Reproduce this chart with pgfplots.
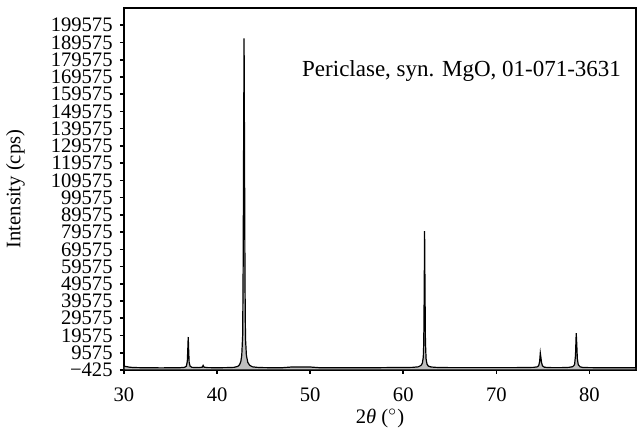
\documentclass[border=0pt]{standalone}
\usepackage{fontspec}
\setmainfont{Liberation Serif}
\usepackage{pgfplots}
\pgfplotsset{compat=1.18}
\begin{document}
\fontsize{10.3pt}{12pt}\selectfont
\begin{tikzpicture}
\begin{axis}[
  scale only axis,
  width=256pt, height=181pt,
  xmin=30, xmax=85, ymin=-425, ymax=209575,
  xtick={30,40,50,60,70,80},
  ytick={-425,9575,19575,29575,39575,49575,59575,69575,79575,89575,99575,109575,119575,129575,139575,149575,159575,169575,179575,189575,199575},
  yticklabels={−425,9575,19575,29575,39575,49575,59575,69575,79575,89575,99575,109575,119575,129575,139575,149575,159575,169575,179575,189575,199575},
  xticklabel style={font=\fontsize{10.3pt}{12pt}\selectfont, yshift=-3.5pt},
  yticklabel style={font=\fontsize{10.3pt}{10pt}\selectfont, inner sep=0pt, xshift=-3.5pt},
  /pgf/number format/assume math mode=true,
  tick align=outside,
  major tick length=2pt,
  xtick pos=bottom, ytick pos=left,
  tick style={black, line width=0.8pt},
  axis line style={line width=0.8pt},
  xlabel={2{\itshape θ} ($^\circ$)},
  ylabel={Intensity (cps)},
  xlabel style={at={(axis description cs:0.5,-0.133)}, anchor=center},
  ylabel style={at={(axis description cs:-0.212,0.5)}, anchor=center, rotate=0},
  label style={font=\fontsize{10.3pt}{12pt}\selectfont},
  clip=true,
]
\coordinate (sw) at (rel axis cs:0,0);
\coordinate (ne) at (rel axis cs:1,1);
\addplot[draw=black, line width=0.6pt, fill=gray!50] coordinates {
(30,-425)
(30,1800) (30.3,1500) (30.6,1200) (31,1000) (32,900) (33,850) (34,800) (35,850) (36,900) (36.5,1100)
(36.7,1800) (36.8,4500) (36.85,11000) (36.9,18700) (36.95,10500) (37.0,4000) (37.1,1800) (37.3,1100)
(38,950) (38.4,1200) (38.5,2200) (38.6,1200) (39,950) (40,900) (41,950) (41.8,1100)
(42.2,1600) (42.4,2500) (42.55,4500) (42.65,8000) (42.75,20000) (42.8,60000) (42.85,130000) (42.9,192000) (42.95,120000) (43.0,50000) (43.05,18000) (43.15,8000) (43.3,4000) (43.5,2300) (43.8,1400) (44.3,1100)
(45,950) (46,900) (47,900) (48,1300) (49,1300) (50,1300) (51,900) (52,900) (53,850) (54,900) (55,900) (56,900) (57,900) (58,950) (59,1000) (60,1000) (61,1100) (61.6,1400)
(61.9,2200) (62.05,3500) (62.15,7000) (62.2,15000) (62.25,45000) (62.29,80200) (62.33,50000) (62.38,16000) (62.45,6000) (62.55,3000) (62.7,1800) (63,1300) (63.5,1100)
(64,1000) (65,950) (66,950) (67,950) (68,950) (69,950) (70,950) (71,950) (72,950) (73,1000) (74,1100) (74.4,1400)
(74.55,2200) (74.65,4500) (74.72,9400) (74.78,7000) (74.85,4000) (74.95,2000) (75.15,1200)
(75.5,1000) (76,950) (77,950) (77.8,1100) (78.2,1500)
(78.4,2600) (78.5,8000) (78.58,21000) (78.64,14000) (78.7,6000) (78.8,2600) (79.0,1400) (79.3,1000)
(80,950) (81,900) (82,900) (83,900) (84,900) (85,900)
(85,-425)
} -- cycle;
\node[anchor=west, inner sep=0pt, font=\fontsize{11.5pt}{13pt}\selectfont] at (axis cs:49.1,172900) {Periclase, syn. MgO, 01-071-3631};
\end{axis}
\pgfresetboundingbox
\path ([shift={(-62pt,-33pt)}]sw) rectangle ([shift={(0.5pt,4pt)}]ne);
\end{tikzpicture}
\end{document}
